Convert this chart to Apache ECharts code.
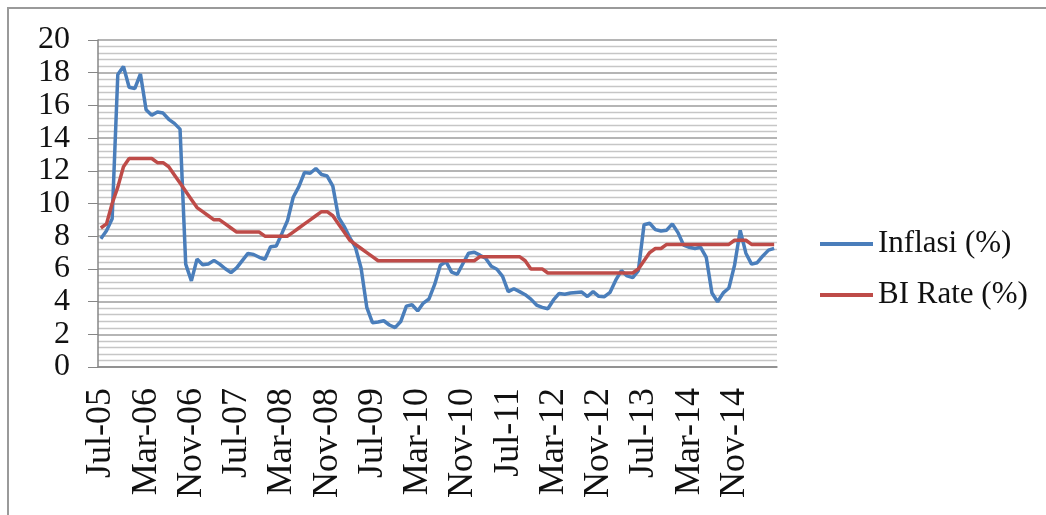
<!DOCTYPE html>
<html>
<head>
<meta charset="utf-8">
<script src="https://cdn.jsdelivr.net/npm/echarts@6/dist/echarts.min.js"></script>
<style>
  html, body { margin: 0; padding: 0; background: #fff; }
  #chart { width: 1046px; height: 515px; }
</style>
</head>
<body>
<div id="chart"></div>
<script>
// monthly, Jul-05 .. Jun-15
const monthNames = ['Jan', 'Feb', 'Mar', 'Apr', 'May', 'Jun', 'Jul', 'Aug', 'Sep', 'Oct', 'Nov', 'Dec'];
const startYear = 2005;
const startMonth = 6; // Jul
const monthCount = 120;

const inflasi = [
  7.84, 8.33, 9.06, 17.89, 18.38, 17.11,
  17.03, 17.92, 15.74, 15.40, 15.60, 15.53, 15.15, 14.90, 14.55, 6.29, 5.27, 6.60,
  6.26, 6.30, 6.52, 6.29, 6.01, 5.77, 6.06, 6.51, 6.95, 6.88, 6.71, 6.59,
  7.36, 7.40, 8.17, 8.96, 10.38, 11.03, 11.90, 11.85, 12.14, 11.77, 11.68, 11.06,
  9.17, 8.60, 7.92, 7.31, 6.04, 3.65, 2.71, 2.75, 2.83, 2.57, 2.41, 2.78,
  3.72, 3.81, 3.43, 3.91, 4.16, 5.05, 6.22, 6.44, 5.80, 5.67, 6.33, 6.96,
  7.02, 6.84, 6.65, 6.16, 5.98, 5.54, 4.61, 4.79, 4.61, 4.42, 4.15, 3.79,
  3.65, 3.56, 4.10, 4.50, 4.45, 4.53, 4.56, 4.58, 4.31, 4.61, 4.32, 4.30,
  4.57, 5.31, 5.90, 5.57, 5.47, 5.90, 8.70, 8.79, 8.40, 8.32, 8.37, 8.75,
  8.22, 7.45, 7.32, 7.25, 7.32, 6.70, 4.53, 3.99, 4.53, 4.83, 6.23, 8.36,
  6.96, 6.29, 6.38, 6.79, 7.15, 7.26
];

const biRate = [
  8.50, 8.75, 10.00, 11.00, 12.25, 12.75,
  12.75, 12.75, 12.75, 12.75, 12.50, 12.50, 12.25, 11.75, 11.25, 10.75, 10.25, 9.75,
  9.50, 9.25, 9.00, 9.00, 8.75, 8.50, 8.25, 8.25, 8.25, 8.25, 8.25, 8.00,
  8.00, 8.00, 8.00, 8.00, 8.25, 8.50, 8.75, 9.00, 9.25, 9.50, 9.50, 9.25,
  8.75, 8.25, 7.75, 7.50, 7.25, 7.00, 6.75, 6.50, 6.50, 6.50, 6.50, 6.50,
  6.50, 6.50, 6.50, 6.50, 6.50, 6.50, 6.50, 6.50, 6.50, 6.50, 6.50, 6.50,
  6.50, 6.75, 6.75, 6.75, 6.75, 6.75, 6.75, 6.75, 6.75, 6.50, 6.00, 6.00,
  6.00, 5.75, 5.75, 5.75, 5.75, 5.75, 5.75, 5.75, 5.75, 5.75, 5.75, 5.75,
  5.75, 5.75, 5.75, 5.75, 5.75, 6.00, 6.50, 7.00, 7.25, 7.25, 7.50, 7.50,
  7.50, 7.50, 7.50, 7.50, 7.50, 7.50, 7.50, 7.50, 7.50, 7.50, 7.75, 7.75,
  7.75, 7.50, 7.50, 7.50, 7.50, 7.50
];

const months = [];
for (let i = 0; i < monthCount; i++) {
  const m = (startMonth + i) % 12;
  const y = startYear + Math.floor((startMonth + i) / 12);
  months.push(monthNames[m] + '-' + String(y % 100).padStart(2, '0'));
}

const serif = "'Liberation Serif', 'Times New Roman', serif";

const chart = echarts.init(document.getElementById('chart'), null, { renderer: 'canvas' });

chart.setOption({
  backgroundColor: '#fff',
  animation: false,
  graphic: [{
    type: 'rect',
    shape: { x: 8, y: 8, width: 1100, height: 600 },
    style: { fill: 'none', stroke: '#9a9a9a', lineWidth: 2 },
    silent: true
  }],
  grid: { left: 98, right: 269, top: 40, bottom: 148 },
  legend: {
    orient: 'vertical',
    left: 815,
    top: 222,
    itemWidth: 53,
    itemHeight: 4,
    itemGap: 17,
    icon: 'rect',
    textStyle: { fontFamily: serif, fontSize: 31, color: '#111', lineHeight: 34 },
    data: ['Inflasi (%)', 'BI Rate (%)']
  },
  xAxis: {
    type: 'category',
    data: months,
    boundaryGap: true,
    axisLine: { lineStyle: { color: '#868686', width: 1.5 } },
    axisTick: { interval: 7, length: 8, lineStyle: { color: '#868686' } },
    axisLabel: {
      interval: 7,
      rotate: 90,
      margin: 21,
      fontFamily: serif,
      fontSize: 36,
      color: '#111'
    },
    splitLine: { show: false }
  },
  yAxis: {
    type: 'value',
    min: 0,
    max: 20,
    interval: 2,
    axisLine: { show: true, lineStyle: { color: '#868686', width: 1.5 } },
    axisTick: { show: true, length: 10, lineStyle: { color: '#868686' } },
    axisLabel: { margin: 28, fontFamily: serif, fontSize: 32, color: '#111' },
    splitLine: { lineStyle: { color: '#9c9c9c', width: 1.5 } },
    minorTick: { show: false, splitNumber: 5 },
    minorSplitLine: { show: true, lineStyle: { color: '#c6c6c6', width: 1.3 } }
  },
  series: [
    {
      name: 'Inflasi (%)',
      type: 'line',
      data: inflasi,
      showSymbol: false,
      symbol: 'none',
      lineStyle: { color: '#4a7ebb', width: 3.5 },
      itemStyle: { color: '#4a7ebb' }
    },
    {
      name: 'BI Rate (%)',
      type: 'line',
      data: biRate,
      showSymbol: false,
      symbol: 'none',
      lineStyle: { color: '#be4b48', width: 3.5 },
      itemStyle: { color: '#be4b48' }
    }
  ]
});
</script>
</body>
</html>
